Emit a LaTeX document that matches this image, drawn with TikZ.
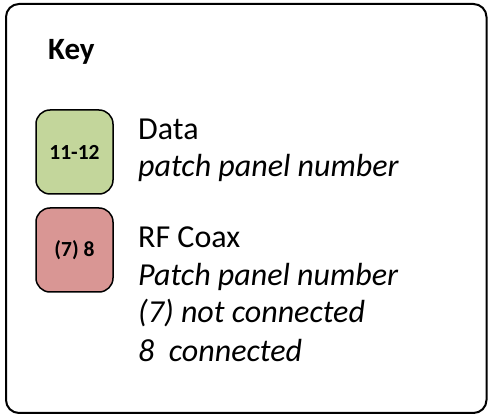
\documentclass[tikz,border=0pt]{standalone}
\usepackage{fontspec}
\setmainfont{Carlito}
\usepackage{xcolor}
\usepackage{tikz}
\usetikzlibrary{positioning}
\definecolor{keyG}{RGB}{195,214,155}
\definecolor{keyR}{RGB}{217,150,148}
\tikzset{swatch/.style={draw=black, line width=1.5pt, rounded corners=14pt,
  minimum width=77pt, minimum height=84pt, inner sep=0pt,
  font=\fontsize{21.5}{25}\selectfont\bfseries},
  keytxt/.style={anchor=base west, inner sep=0pt, font=\fontsize{32}{38}\selectfont}}

\begin{document}
\begin{tikzpicture}[x=1pt, y=-1pt]
\useasboundingbox (0,0) rectangle (488,414);
% ===== outer frame =====
\draw[line width=2pt, rounded corners=13pt] (6,4) rectangle (486.5,413);
\node[keytxt, font=\fontsize{31}{37}\selectfont\bfseries] (title) at (48,60) {Key};
% ===== swatches =====
\node[swatch, fill=keyG] (data) at (74.5,152) {11-12};
\node[swatch, fill=keyR] (coax) at (74.5,250) {(7) 8};
% ===== descriptions =====
\node[keytxt] (dataA) at (138,140) {Data};
\node[keytxt] (dataB) at (138,177) {\itshape patch panel number};
\node[keytxt] (coaxA) at (138,248) {RF Coax};
\node[keytxt] (coaxB) at (138,286) {\itshape Patch panel number};
\node[keytxt] (coaxC) at (138,323) {\itshape (7) not connected};
\node[keytxt] (coaxD) at (138,362) {\itshape 8\ \ connected};
\end{tikzpicture}
\end{document}
